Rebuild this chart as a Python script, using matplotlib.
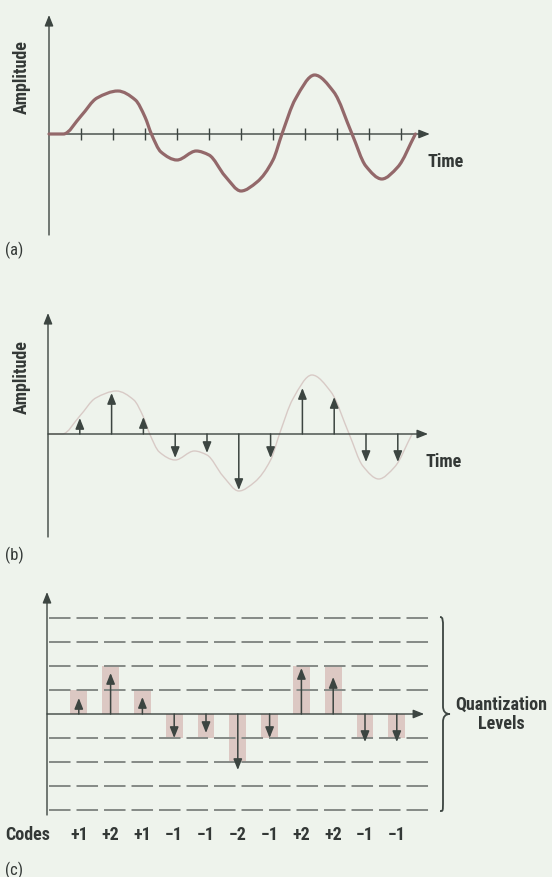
import matplotlib
matplotlib.use('Agg')
import matplotlib.pyplot as plt
from matplotlib.path import Path
from matplotlib.patches import PathPatch
from matplotlib import font_manager

W, H, DPI = 552, 877, 100

# ---------------- data ----------------
curve_t = [0, 0.45, 1.0, 1.5, 2.15, 2.7, 3.0, 3.2, 3.5, 4.0, 4.6, 5.0, 5.5, 6.0,
           6.5, 7.0, 7.28, 7.7, 8.3, 8.9, 9.47, 9.9, 10.4, 10.9, 11.45]
curve_amp = [0, 0, 18, 36, 43, 34, 17, 0, -18, -26, -17, -21, -42, -57,
             -48, -26, 0, 35, 59, 42, 0, -32, -45, -33, 0]
sample_t = [1, 2, 3, 4, 5, 6, 7, 8, 9, 10, 11]
sample_amp = [16, 41, 17, -24, -19, -56, -24, 46, 37, -28, -28]
codes = [1, 2, 1, -1, -1, -2, -1, 2, 2, -1, -1]
code_labels = ['+1', '+2', '+1', '\u22121', '\u22121', '\u22122', '\u22121', '+2', '+2', '\u22121', '\u22121']
tick_t = [1, 2, 3, 4, 5, 6, 7, 8, 9, 10, 11]
quant_step = 24
quant_levels = [-4, -3, -2, -1, 1, 2, 3, 4]

# ---------------- style ----------------
names = {f.name for f in font_manager.fontManager.ttflist}
FONT = next((n for n in ['Liberation Sans Narrow', 'Roboto Condensed', 'Open Sans Condensed',
                         'Noto Sans Condensed', 'Arial Narrow', 'Roboto'] if n in names), 'DejaVu Sans')
plt.rcParams['font.family'] = [FONT, 'DejaVu Sans']
plt.rcParams['lines.scale_dashes'] = False

BG = '#eef3ec'
AX = '#3c4541'
TXT = '#333836'
CURVE = '#93686a'
CURVE_LIGHT = '#d8cac6'
BAR = '#dcc8c3'
DASH = '#858a86'
FS = 13

fig = plt.figure(figsize=(W / DPI, H / DPI), dpi=DPI)
fig.patch.set_facecolor(BG)


def make_axes(ox, oy, sx, sy, top, bottom):
    ax = fig.add_axes([0, 1 - bottom / H, 1, (bottom - top) / H])
    ax.set_xlim(-ox / sx, (W - ox) / sx)
    ax.set_ylim(-(bottom - oy) / sy, (oy - top) / sy)
    ax.axis('off')
    ax.patch.set_alpha(0)
    return ax


def arrow(ax, x0, y0, x1, y1, lw=1.0, color=AX, hl=0.65, hw=0.26, z=3):
    ax.annotate('', xy=(x1, y1), xytext=(x0, y0),
                arrowprops=dict(arrowstyle=f'-|>,head_length={hl},head_width={hw}',
                                mutation_scale=10, shrinkA=0, shrinkB=0,
                                lw=lw, color=color), zorder=z)


def smooth_path(xs, ys):
    """Monotone cubic (Fritsch-Carlson) path through the read points, as Bezier segments."""
    n = len(xs)
    h = [xs[i + 1] - xs[i] for i in range(n - 1)]
    d = [(ys[i + 1] - ys[i]) / h[i] for i in range(n - 1)]
    m = [0.0] * n
    m[0], m[-1] = d[0], d[-1]
    for i in range(1, n - 1):
        if d[i - 1] * d[i] <= 0:
            m[i] = 0.0
        else:
            w1 = 2 * h[i] + h[i - 1]
            w2 = h[i] + 2 * h[i - 1]
            m[i] = (w1 + w2) / (w1 / d[i - 1] + w2 / d[i])
    verts = [(xs[0], ys[0])]
    cds = [Path.MOVETO]
    for i in range(n - 1):
        verts += [(xs[i] + h[i] / 3, ys[i] + m[i] * h[i] / 3),
                  (xs[i + 1] - h[i] / 3, ys[i + 1] - m[i + 1] * h[i] / 3),
                  (xs[i + 1], ys[i + 1])]
        cds += [Path.CURVE4] * 3
    return Path(verts, cds)


def axes_frame(ax, ybot, ytop, xend):
    arrow(ax, 0, ybot, 0, ytop)
    arrow(ax, 0, 0, xend, 0)


# ---------------- panel (a) ----------------
axa = make_axes(49, 134, 32, 1, 0, 260)
axes_frame(axa, -101, 119, 11.9)
axa.vlines(tick_t, -6, 6, color=AX, lw=1.0, zorder=3)
axa.add_patch(PathPatch(smooth_path(curve_t, curve_amp), fill=False, ec=CURVE, lw=2.3,
                        capstyle='round', zorder=4))
axa.text(-0.84, 57, 'Amplitude', rotation=90, ha='center', va='center',
         fontsize=FS, fontweight='bold', color=TXT)
axa.text(11.84, -28, 'Time', ha='left', va='center', fontsize=FS, fontweight='bold', color=TXT)
fig.text(5 / W, 1 - 250 / H, '(a)', ha='left', va='center', fontsize=12, color=TXT)

# ---------------- panel (b) ----------------
axb = make_axes(48, 434, 31.8, 1, 265, 545)
axes_frame(axb, -103, 121, 11.95)
axb.add_patch(PathPatch(smooth_path(curve_t, curve_amp), fill=False, ec=CURVE_LIGHT, lw=1.0,
                        zorder=2))
for t, v in zip(sample_t, sample_amp):
    arrow(axb, t, 0, t, v, lw=1.1)
axb.text(-0.82, 57, 'Amplitude', rotation=90, ha='center', va='center',
         fontsize=FS, fontweight='bold', color=TXT)
axb.text(11.88, -28, 'Time', ha='left', va='center', fontsize=FS, fontweight='bold', color=TXT)
fig.text(5 / W, 1 - 555 / H, '(b)', ha='left', va='center', fontsize=12, color=TXT)

# ---------------- panel (c) ----------------
axc = make_axes(47, 714, 31.8, 1, 580, 852)
xdash_end = (429 - 47) / 31.8
axc.bar(sample_t, [c * quant_step for c in codes], width=0.53, color=BAR, zorder=1)
for lv in quant_levels:
    axc.plot([0.05, xdash_end], [lv * quant_step] * 2, color=DASH, lw=1.4,
             dashes=(15.5, 4.3), zorder=2)
axes_frame(axc, -101, 122, 11.86)
for t, v in zip(sample_t, sample_amp):
    arrow(axc, t, 0, t, v, lw=1.1)

# brace
px = 1 / 31.8
top = max(quant_levels) * quant_step
bot = min(quant_levels) * quant_step
xl = xdash_end + 11 * px
xv = xl + 3 * px
xm = xv + 7 * px
bverts = [(xl, top + 1), (xv, top + 1), (xv, top - 2), (xv, top - 10),
          (xv, 8),
          (xv, 3), (xv + 2 * px, 0), (xm, 0),
          (xv + 2 * px, 0), (xv, -3), (xv, -8),
          (xv, bot + 10),
          (xv, bot - 2), (xv, bot - 1), (xl, bot - 1)]
bcodes = [Path.MOVETO, Path.CURVE4, Path.CURVE4, Path.CURVE4,
          Path.LINETO,
          Path.CURVE4, Path.CURVE4, Path.CURVE4,
          Path.CURVE4, Path.CURVE4, Path.CURVE4,
          Path.LINETO,
          Path.CURVE4, Path.CURVE4, Path.CURVE4]
axc.add_patch(PathPatch(Path(bverts, bcodes), fill=False, ec=AX, lw=1.3, zorder=3))
axc.text((501 - 47) / 31.8, 0, 'Quantization\nLevels', ha='center', va='center',
         multialignment='center', fontsize=FS, fontweight='bold', color=TXT, linespacing=1.1)

axc.text((5 - 47) / 31.8, -121, 'Codes', ha='left', va='center', fontsize=FS,
         fontweight='bold', color=TXT)
for t, lab in zip(sample_t, code_labels):
    axc.text(t, -121, lab, ha='center', va='center', fontsize=FS, fontweight='bold', color=TXT)
fig.text(5 / W, 1 - 870 / H, '(c)', ha='left', va='center', fontsize=12, color=TXT)

fig.savefig('out.png', dpi=DPI, facecolor=BG)
